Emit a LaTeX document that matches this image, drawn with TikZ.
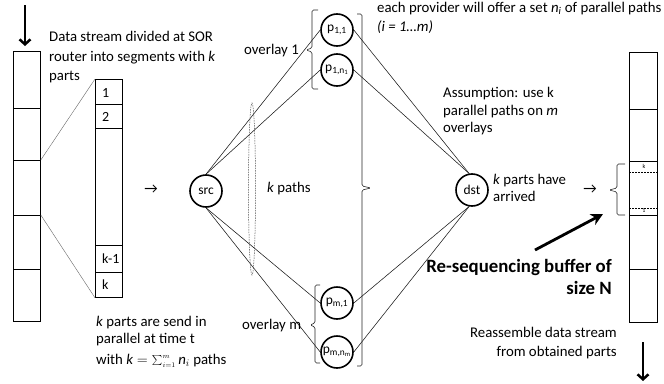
\documentclass[tikz,border=0pt]{standalone}
\usepackage{fontspec}
\setmainfont{Carlito}
\usetikzlibrary{arrows.meta}
\begin{document}
\begin{tikzpicture}[x=1pt,y=-1pt,
  txt/.style={font=\fontsize{14.8}{18}\selectfont, inner sep=0pt, anchor=base west},
  rtxt/.style={txt, anchor=base east},
  btxt/.style={font=\fontsize{18.8}{22}\selectfont\bfseries, inner sep=0pt, anchor=base east},
  ctxt/.style={font=\fontsize{14}{16}\selectfont, inner sep=0pt, anchor=base west},
  tiny/.style={font=\fontsize{6}{7}\selectfont, inner sep=0pt},
  cell/.style={draw, line width=0.8pt, minimum width=27pt, inner sep=0pt, anchor=north west},
  circ/.style={circle, draw, line width=1.6pt, minimum size=32pt, inner sep=0pt, font=\fontsize{13.5}{15}\selectfont},
  conn/.style={line width=0.55pt, black!90},
  thinconn/.style={line width=0.4pt, black!60},
  brace/.style={line width=0.6pt, black!85, rounded corners=1.5pt},
  bigarrow/.style={line width=2.5pt, -{Straight Barb[length=5pt,width=11pt]}},
]
\useasboundingbox (0,0) rectangle (664,383);

% left data stream
\node[cell, minimum height=57pt] (L1) at (13,51) {};
\node[cell, minimum height=52pt] (L2) at (13,108) {};
\node[cell, minimum height=55pt] (L3) at (13,160) {};
\node[cell, minimum height=54pt] (L4) at (13,215) {};
\node[cell, minimum height=52pt] (L5) at (13,269) {};
\coordinate (topA) at (25,5);
\coordinate (topB) at (25,46);
\draw[bigarrow] (topA) -- (topB);

% segment
\node[cell, minimum height=25pt] (S1) at (95,79) {};
\node[cell, minimum height=24pt] (S2) at (95,104) {};
\node[cell, minimum height=117pt] (S3) at (95,128) {};
\node[cell, minimum height=27pt] (S4) at (95,245) {};
\node[cell, minimum height=25pt] (S5) at (95,272) {};
\node[ctxt] (s1t) at (102,97) {1};
\node[ctxt] (s2t) at (102,121) {2};
\node[ctxt] (s4t) at (102,263) {k-1};
\node[ctxt] (s5t) at (102,289) {k};
\draw[thinconn] (L3.north east) -- (S1.north west);
\draw[thinconn] (L4.north east) -- (S5.south west);

\node[txt] (a1) at (49,41) {Data stream divided at SOR};
\node[txt] (a2) at (49,61) {router into segments with \textit{k}};
\node[txt] (a3) at (49,80) {parts};

\node[txt] (b1) at (96,326) {\textit{k} parts are send in};
\node[txt] (b2) at (96,343) {parallel at time t};
\node[txt] (b3) at (96,364) {with $\mathit{k}=\sum\nolimits_{\scriptscriptstyle i=1}^{\scriptscriptstyle m} \mathit{n}_{i}$ paths};

\node[txt, anchor=center] (arr1) at (151,189) {→};

% nodes
\node[circ] (src) at (206,191) {src};
\node[circ] (dst) at (472,190) {dst};
\node[circ] (p11) at (337,30) {p\textsubscript{1,1}};
\node[circ] (p1n) at (337,70) {p\textsubscript{1,n\textsubscript{1}}};
\node[circ] (pm1) at (337,303) {p\textsubscript{m,1}};
\node[circ] (pmn) at (337,352) {p\textsubscript{m,n\textsubscript{m}}};

\draw[conn] (src.north) -- (p11.west);
\draw[conn] (src.north) -- (p1n.west);
\draw[conn] (src.south) -- (pm1.west);
\draw[conn] (src.south) -- (pmn.west);
\draw[conn] (p11.east) -- (dst.100);
\draw[conn] (p1n.east) -- (dst.100);
\draw[conn] (pm1.east) -- (dst.260);
\draw[conn] (pmn.east) -- (dst.260);

\draw[line width=0.5pt, black!70, dash pattern=on 1.5pt off 1pt] (252,189) ellipse [x radius=3.5pt, y radius=86pt];
\node[txt] (kp) at (267,192) {\textit{k} paths};

% braces
\draw[brace] (318,10) -- (312,10) -- (312,48) -- (306,50) -- (312,52) -- (312,89) -- (318,89);
\draw[brace] (320,285) -- (315,285) -- (315,323) -- (310,325) -- (315,327) -- (315,363) -- (320,363);
\draw[brace] (357,14) -- (362,14) -- (362,186) -- (371,188) -- (362,190) -- (362,366) -- (357,366);
\node[txt] (ov1) at (244,54) {overlay 1};
\node[txt] (ovm) at (242,329) {overlay m};

\node[txt] (c1) at (377,12) {each provider will offer a set \textit{n\textsubscript{i}} of parallel paths};
\node[txt] (c2) at (377,31) {\textit{(i = 1…m)}};

\node[txt] (d1) at (443,97) {Assumption: use k};
\node[txt] (d2) at (443,115) {parallel paths on \textit{m}};
\node[txt] (d3) at (443,132) {overlays};

\node[txt] (e1) at (493,184) {\textit{k} parts have};
\node[txt] (e2) at (493,201) {arrived};
\node[txt, anchor=center] (arr2) at (590,189) {→};

% right buffer
\node[cell, minimum width=28pt, minimum height=57pt] (R1) at (629,52) {};
\node[cell, minimum width=28pt, minimum height=52pt] (R2) at (629,109) {};
\node[cell, minimum width=28pt, minimum height=54pt] (R3) at (629,161) {};
\node[cell, minimum width=28pt, minimum height=54pt] (R4) at (629,215) {};
\node[cell, minimum width=28pt, minimum height=53pt] (R5) at (629,269) {};
\draw[line width=0.5pt, dash pattern=on 2pt off 1pt] ([yshift=-11pt]R3.north west) -- ([yshift=-11pt]R3.north east);
\draw[line width=0.5pt, dash pattern=on 2pt off 1pt] ([yshift=8pt]R3.south west) -- ([yshift=8pt]R3.south east);
\node[tiny] (rk) at (644,166) {k};
\node[tiny] (r1) at (644,211) {1};
\draw[brace] (625,164) -- (617,164) -- (617,188) -- (609,190) -- (617,192) -- (617,215) -- (625,215);

\coordinate (bigA) at (535,250);
\coordinate (bigB) at (603,214);
\draw[line width=2.8pt, -{Stealth[length=12pt,width=12pt]}] (bigA) -- (bigB);

\node[btxt] (f1) at (612,272) {Re-sequencing buffer of};
\node[btxt] (f2) at (612,294) {size N};

\node[rtxt] (g1) at (617,337) {Reassemble data stream};
\node[rtxt] (g2) at (617,356) {from obtained parts};

\coordinate (botA) at (643,342);
\coordinate (botB) at (643,381);
\draw[bigarrow] (botA) -- (botB);
\end{tikzpicture}
\end{document}
